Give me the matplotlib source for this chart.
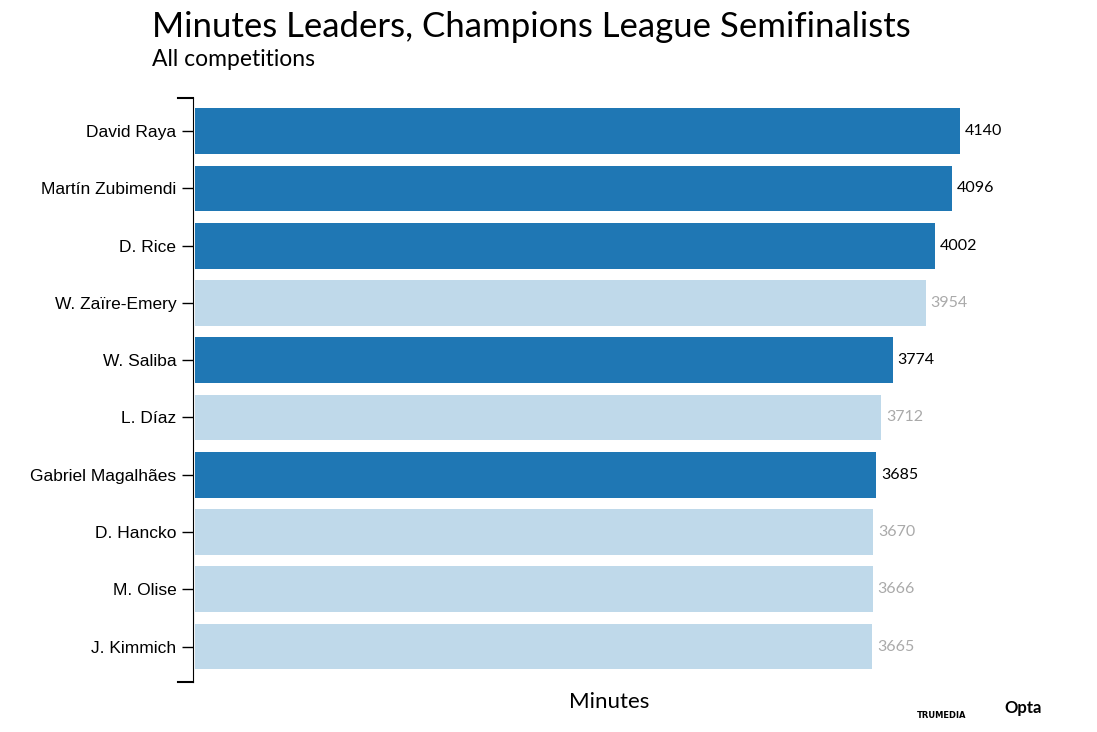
import matplotlib
matplotlib.use("Agg")
import matplotlib.pyplot as plt

players = ["David Raya", "Martín Zubimendi", "D. Rice", "W. Zaïre-Emery", "W. Saliba",
           "L. Díaz", "Gabriel Magalhães", "D. Hancko", "M. Olise", "J. Kimmich"]
minutes = [4140, 4096, 4002, 3954, 3774, 3712, 3685, 3670, 3666, 3665]
highlight = [True, True, True, False, True, False, True, False, False, False]

dark = "#1f77b4"
light = "#bfd9ea"

fig = plt.figure(figsize=(10.97, 7.32), dpi=100)
ax = fig.add_axes([193/1097, 1-682/732, (1050-193)/1097, (682-98)/732])
ypos = list(range(len(players)))
colors = [dark if h else light for h in highlight]
ax.barh(ypos, minutes, height=0.8, color=colors, left=0)
for y, v, h in zip(ypos, minutes, highlight):
    ax.text(v + 25, y, str(v), va="center", ha="left", fontsize=11.5,
            family="Lato", color="black" if h else "#aaaaaa")
ax.set_xlim(-10, 4625)
ax.set_ylim(9.62, -0.58)
ax.set_yticks(ypos)
ax.set_yticklabels(players, fontsize=12.5, family="Liberation Sans")
ax.tick_params(axis="y", length=8, width=1, pad=4)
ax.set_xticks([])
for s in ["top", "right", "bottom"]:
    ax.spines[s].set_visible(False)
ax.plot([-0.017, 0], [0, 0], transform=ax.transAxes, color="black", clip_on=False, lw=1.5)
ax.plot([-0.017, 0], [1, 1], transform=ax.transAxes, color="black", clip_on=False, lw=1.5)

fig.text(152/1097, 1-27/732, "Minutes Leaders, Champions League Semifinalists",
         fontsize=25, family="Lato", va="center", ha="left")
fig.text(152/1097, 1-60/732, "All competitions", fontsize=16.5, family="Lato", va="center", ha="left")
fig.text(609/1097, 1-702/732, "Minutes", fontsize=16, family="Lato", va="center", ha="center")
fig.text(942/1097, 1-716/732, "TRUMEDIA", fontsize=6, family="DejaVu Sans", weight="bold", va="center", ha="center")
fig.text(1004/1097, 1-708/732, "Opta", fontsize=12, family="Lato", weight="bold", va="center", ha="left")
fig.savefig("out.png", dpi=100)
